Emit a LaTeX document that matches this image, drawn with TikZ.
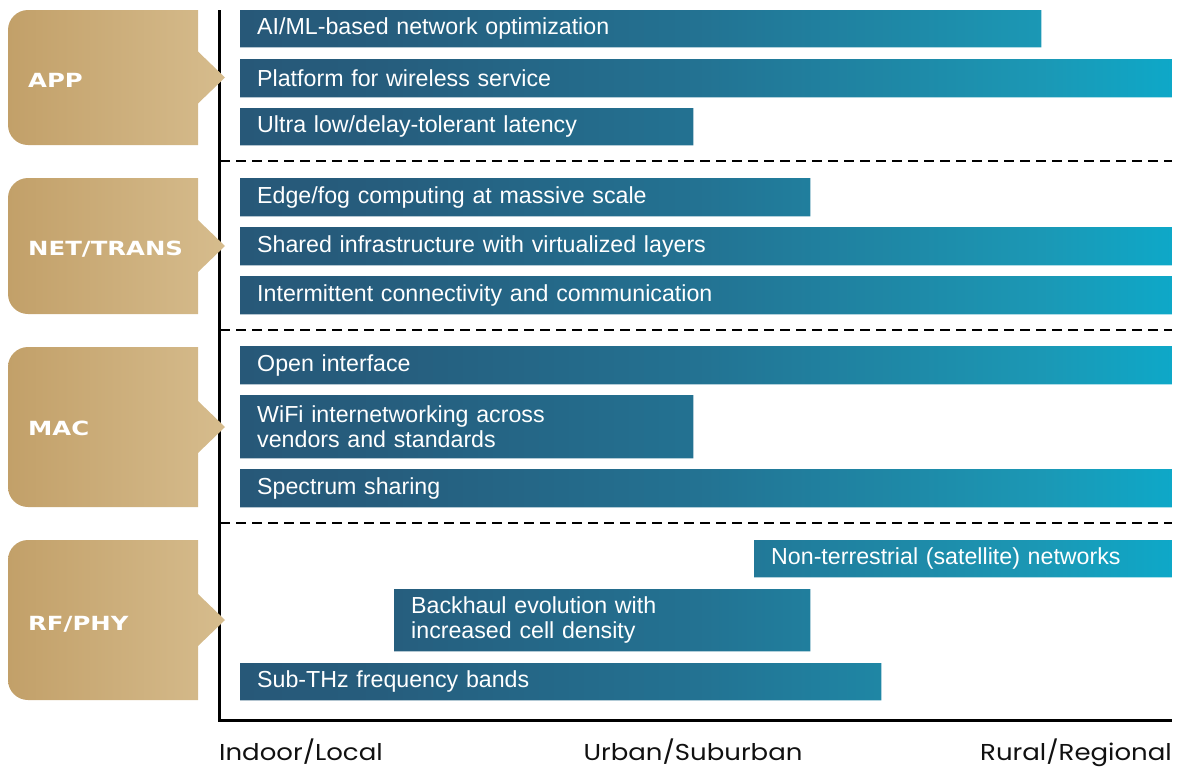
\documentclass[tikz,border=0pt]{standalone}
\usepackage{fontspec}
\setmainfont{Liberation Sans}
\newfontfamily\tagfont[FakeStretch=1.25]{DejaVu Sans}
\newfontfamily\axisfont[FakeStretch=1.13]{Poppins}

\definecolor{barA}{RGB}{39,88,120}
\definecolor{barB}{RGB}{38,93,125}
\definecolor{barC}{RGB}{35,114,146}
\definecolor{barD}{RGB}{27,152,181}
\definecolor{barE}{RGB}{14,168,200}
\definecolor{goldL}{RGB}{194,160,105}
\definecolor{goldR}{RGB}{214,188,141}
\definecolor{axisink}{RGB}{17,17,17}

% one gradient shared by every bar, mapped onto the full axis width
\pgfdeclarehorizontalshading{barshade}{100bp}{%
  color(0bp)=(barA); color(25bp)=(barA); color(32.5bp)=(barB);
  color(49.5bp)=(barC); color(68bp)=(barD); color(75bp)=(barE);
  color(100bp)=(barE)}

\pgfdeclarelayer{bg}
\pgfsetlayers{bg,main}

\tikzset{
  bar/.style={rectangle, anchor=north west, inner ysep=0pt, inner xsep=17pt,
    align=left, text=white, font=\fontsize{23.2}{25}\selectfont},
  tagtext/.style={anchor=base west, text=white, inner sep=0pt,
    font=\tagfont\bfseries\fontsize{19.5}{22}\selectfont},
  axislabel/.style={inner sep=0pt, text=axisink,
    font=\axisfont\fontsize{23}{26}\selectfont},
  axisline/.style={line width=3pt, draw=black},
  divider/.style={line width=2pt, draw=black, dash pattern=on 10pt off 6pt},
  tagshape/.style={left color=goldL, right color=goldR, draw=none}
}

% gold layer tag with rounded left side and a pointer on the right
\newcommand\layertag[2]{% #1 top y, #2 bottom y
  \pgfmathsetmacro\ymid{(#1+#2)/2}
  \shade[tagshape] (198,#1) -- (198,\ymid-26) -- (225,\ymid)
    -- (198,\ymid+26) -- (198,#2) -- (100,#2)
    [rounded corners=20pt] -- (8,#2) -- (8,#1) -- (100,#1)
    [sharp corners] -- cycle;
}

\begin{document}
\begin{tikzpicture}[x=1pt, y=-1pt]
\useasboundingbox (0,0) rectangle (1178,766);

% axes
\coordinate (ytop) at (219,10);
\coordinate (origin) at (219,720);
\coordinate (xend) at (1172,720);

% section dividers
\coordinate (d1a) at (220,161);  \coordinate (d1b) at (1172,161);
\coordinate (d2a) at (220,330);  \coordinate (d2b) at (1172,330);
\coordinate (d3a) at (220,523);  \coordinate (d3b) at (1172,523);

% bars
\node[bar, text width=767pt, minimum height=37pt] (b1) at (240,10) {AI/ML-based network optimization};
\node[bar, text width=898pt, minimum height=38pt] (b2) at (240,59) {Platform for wireless service};
\node[bar, text width=419pt, minimum height=37pt] (b3) at (240,108) {Ultra low/delay-tolerant latency};

\node[bar, text width=536pt, minimum height=38pt] (b4) at (240,178) {Edge/fog computing at massive scale};
\node[bar, text width=898pt, minimum height=38pt] (b5) at (240,227) {Shared infrastructure with virtualized layers};
\node[bar, text width=898pt, minimum height=38pt] (b6) at (240,276) {Intermittent connectivity and communication};

\node[bar, text width=898pt, minimum height=38pt] (b7) at (240,346) {Open interface};
\node[bar, text width=419pt, minimum height=63pt] (b8) at (240,395) {WiFi internetworking across\\vendors and standards};
\node[bar, text width=898pt, minimum height=38pt] (b9) at (240,469) {Spectrum sharing};

\node[bar, text width=384pt, minimum height=37pt] (b10) at (754,540) {Non-terrestrial (satellite) networks};
\node[bar, text width=382pt, minimum height=62pt] (b11) at (394,589) {Backhaul evolution with\\increased cell density};
\node[bar, text width=607pt, minimum height=37pt] (b12) at (240,663) {Sub-THz frequency bands};

\begin{pgfonlayer}{bg}
  \begin{scope}
    \clip (b1.north west) rectangle (b1.south east)
          (b2.north west) rectangle (b2.south east)
          (b3.north west) rectangle (b3.south east)
          (b4.north west) rectangle (b4.south east)
          (b5.north west) rectangle (b5.south east)
          (b6.north west) rectangle (b6.south east)
          (b7.north west) rectangle (b7.south east)
          (b8.north west) rectangle (b8.south east)
          (b9.north west) rectangle (b9.south east)
          (b10.north west) rectangle (b10.south east)
          (b11.north west) rectangle (b11.south east)
          (b12.north west) rectangle (b12.south east);
    \shade[shading=barshade] (240,10) rectangle (1172,700);
  \end{scope}
  \draw[axisline] (ytop) -- (origin) -- (xend);
  \draw[divider] (d1a) -- (d1b);
  \draw[divider] (d2a) -- (d2b);
  \draw[divider] (d3a) -- (d3b);
\end{pgfonlayer}

% layer tags
\layertag{10}{145}
\layertag{178}{314}
\layertag{347}{507}
\layertag{540}{700}
\node[tagtext] (tapp) at (28,87) {APP};
\node[tagtext] (tnet) at (28,255) {NET/TRANS};
\node[tagtext] (tmac) at (28,435) {MAC};
\node[tagtext] (tphy) at (28,630) {RF/PHY};

% axis labels
\node[axislabel, anchor=base west] (xl1) at (219,760) {Indoor/Local};
\node[axislabel, anchor=base] (xl2) at (693,760) {Urban/Suburban};
\node[axislabel, anchor=base east] (xl3) at (1172,760) {Rural/Regional};
\end{tikzpicture}
\end{document}
